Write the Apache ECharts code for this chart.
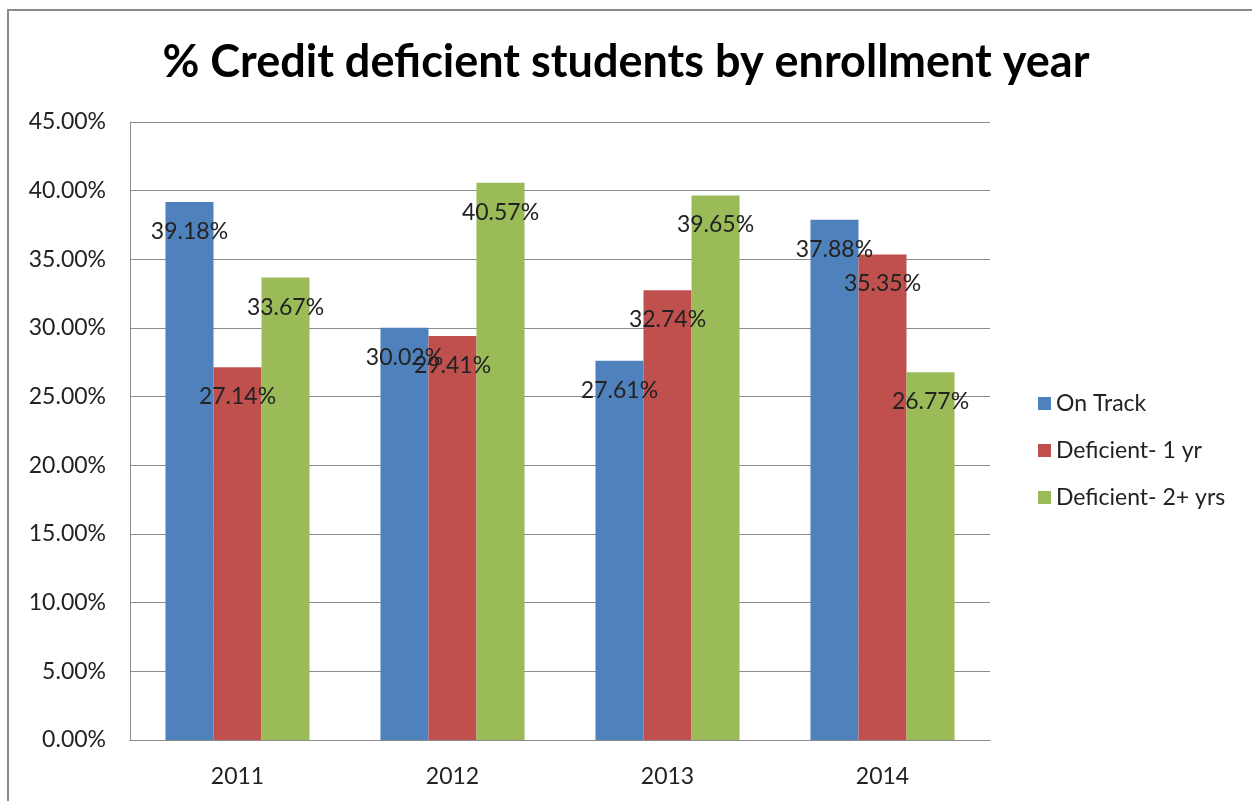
<!DOCTYPE html>
<html><head><meta charset="utf-8">
<script src="https://cdn.jsdelivr.net/npm/echarts@6/dist/echarts.min.js"></script>
<style>html,body{margin:0;padding:0;background:#fff}#c{width:1252px;height:801px}</style>
</head><body><div id="c"></div>
<script>
var categories = ['2011', '2012', '2013', '2014'];
var onTrack = [39.18, 30.02, 27.61, 37.88];
var deficient1 = [27.14, 29.41, 32.74, 35.35];
var deficient2 = [33.67, 40.57, 39.65, 26.77];
var seriesNames = ['On Track', 'Deficient- 1 yr', 'Deficient- 2+ yrs'];
var colors = ['#4F81BD', '#C0504D', '#9BBB59'];
var FONT = 'Lato';
var chart = echarts.init(document.getElementById('c'));
function mk(name, data, color) {
  return {
    name: name, type: 'bar', data: data, barGap: '0%', barCategoryGap: '33%',
    itemStyle: {color: color},
    label: {show: true, position: 'insideTop', distance: 18, color: '#222', fontFamily: FONT, fontSize: 23,
      formatter: function (p) { return p.value.toFixed(2) + '%'; }}
  };
}
chart.setOption({
  animation: false,
  backgroundColor: '#fff',
  graphic: [{type: 'rect', shape: {x: 8, y: 10, width: 1260, height: 800}, style: {fill: 'none', stroke: '#8a8a8a', lineWidth: 2}, z: -1}],
  title: {text: '% Credit deficient students by enrollment year', left: 'center', top: 35,
    textStyle: {fontFamily: FONT, fontWeight: 'bold', fontSize: 45, color: '#000'}},
  legend: {orient: 'vertical', left: 1033, top: 387, itemWidth: 13, itemHeight: 13, itemGap: 24, icon: 'rect',
    textStyle: {fontFamily: FONT, fontSize: 23, color: '#222'}, data: seriesNames},
  grid: {left: 130, right: 262, top: 122, bottom: 61, containLabel: false},
  xAxis: {type: 'category', data: categories,
    axisLine: {lineStyle: {color: '#8c8c8c', width: 1}}, axisTick: {show: false},
    axisLabel: {fontFamily: FONT, fontSize: 23, color: '#222', margin: 25}},
  yAxis: {type: 'value', min: 0, max: 45, interval: 5,
    axisLine: {show: true, lineStyle: {color: '#8c8c8c'}}, axisTick: {show: false},
    splitLine: {lineStyle: {color: '#8c8c8c'}},
    axisLabel: {fontFamily: FONT, fontSize: 23, color: '#222', margin: 24,
      formatter: function (v) { return v.toFixed(2) + '%'; }}},
  series: [mk(seriesNames[0], onTrack, colors[0]), mk(seriesNames[1], deficient1, colors[1]), mk(seriesNames[2], deficient2, colors[2])]
});
</script></body></html>
